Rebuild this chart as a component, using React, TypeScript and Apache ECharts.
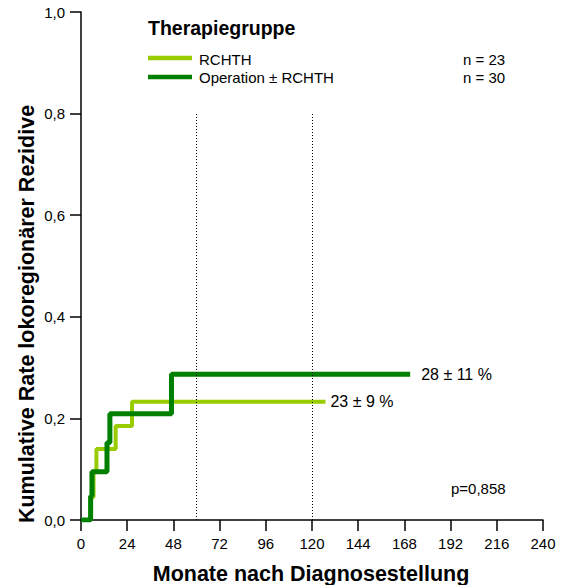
import React, { useEffect, useRef } from "react";
import * as echarts from "echarts";

const xTicks = [0, 24, 48, 72, 96, 120, 144, 168, 192, 216, 240];
const yTicks = [0, 0.2, 0.4, 0.6, 0.8, 1.0];

// [months, cumulative rate]
const rchth: [number, number][] = [
  [0, 0], [5, 0], [5, 0.045], [6.5, 0.045], [6.5, 0.095], [8, 0.095], [8, 0.14],
  [18, 0.14], [18, 0.185], [26.5, 0.185], [26.5, 0.233], [127, 0.233],
];
const operation: [number, number][] = [
  [0, 0], [5, 0], [5, 0.047], [5.7, 0.047], [5.7, 0.095], [13.5, 0.095], [13.5, 0.152],
  [15, 0.152], [15, 0.209], [47, 0.209], [47, 0.287], [171, 0.287],
];
const refLines = [60, 120];
const seriesNames = ["RCHTH", "Operation ± RCHTH"];
const seriesN = ["n = 23", "n = 30"];
const endLabels = ["23 ± 9 %", "28 ± 11 %"];
const pValue = "p=0,858";

const LIGHT = "#99cc00";
const DARK = "#008000";
const FONT = "'Liberation Sans', Arial, sans-serif";

export default function App() {
  const ref = useRef<HTMLDivElement>(null);
  useEffect(() => {
    if (!ref.current) return;
    const chart = echarts.init(ref.current, undefined, { renderer: "svg" });
    const axisLine = { show: true, lineStyle: { color: "#000", width: 1.5 } };
    const tick = { show: true, length: 11, lineStyle: { color: "#000", width: 1.5 } };
    const endL = rchth[rchth.length - 1];
    const endD = operation[operation.length - 1];
    chart.setOption({
      animation: false,
      backgroundColor: "#fff",
      grid: { left: 81, right: 20, top: 12, bottom: 65 },
      xAxis: {
        type: "value",
        min: xTicks[0],
        max: xTicks[xTicks.length - 1],
        interval: 24,
        axisLine,
        axisTick: tick,
        axisLabel: { color: "#000", fontSize: 15, fontFamily: FONT, margin: 16 },
        splitLine: { show: false },
      },
      yAxis: {
        type: "value",
        min: yTicks[0],
        max: yTicks[yTicks.length - 1],
        interval: 0.2,
        axisLine,
        axisTick: tick,
        axisLabel: {
          color: "#000",
          fontSize: 15,
          fontFamily: FONT,
          margin: 16,
          formatter: (v: number) => v.toFixed(1).replace(".", ","),
        },
        splitLine: { show: false },
      },
      series: [
        {
          type: "line",
          name: seriesNames[0],
          data: rchth,
          showSymbol: false,
          lineStyle: { color: LIGHT, width: 4 },
          z: 3,
          markLine: {
            silent: true,
            symbol: "none",
            label: { show: false },
            lineStyle: { color: "#000", width: 1, type: [1, 2] },
            data: refLines.map((x) => [{ coord: [x, 0] }, { coord: [x, 0.8] }]),
          },
          markPoint: {
            symbol: "circle",
            symbolSize: 0,
            data: [{ coord: endL, value: endLabels[0] }],
            label: {
              show: true,
              position: "right",
              distance: 5,
              formatter: endLabels[0],
              color: "#000",
              fontSize: 16,
              fontFamily: FONT,
            },
          },
        },
        {
          type: "line",
          name: seriesNames[1],
          data: operation,
          showSymbol: false,
          lineStyle: { color: DARK, width: 5 },
          z: 4,
          markPoint: {
            symbol: "circle",
            symbolSize: 0,
            data: [{ coord: endD, value: endLabels[1] }],
            label: {
              show: true,
              position: "right",
              distance: 11,
              formatter: endLabels[1],
              color: "#000",
              fontSize: 16,
              fontFamily: FONT,
            },
          },
        },
      ],
      graphic: [
        {
          type: "text",
          x: 148,
          y: 28,
          style: {
            text: "Therapiegruppe",
            font: `bold 19.5px ${FONT}`,
            fill: "#000",
            verticalAlign: "middle",
          },
        },
        { type: "line", shape: { x1: 148, y1: 58, x2: 192, y2: 58 }, style: { stroke: LIGHT, lineWidth: 4.5 } },
        { type: "line", shape: { x1: 148, y1: 77, x2: 192, y2: 77 }, style: { stroke: DARK, lineWidth: 4.5 } },
        {
          type: "text",
          x: 199,
          y: 59,
          style: { text: seriesNames[0], font: `15px ${FONT}`, fill: "#000", verticalAlign: "middle" },
        },
        {
          type: "text",
          x: 199,
          y: 77,
          style: { text: seriesNames[1], font: `15px ${FONT}`, fill: "#000", verticalAlign: "middle" },
        },
        {
          type: "text",
          x: 463,
          y: 59,
          style: { text: seriesN[0], font: `15px ${FONT}`, fill: "#000", verticalAlign: "middle" },
        },
        {
          type: "text",
          x: 463,
          y: 77,
          style: { text: seriesN[1], font: `15px ${FONT}`, fill: "#000", verticalAlign: "middle" },
        },
        {
          type: "text",
          x: 451,
          y: 488,
          style: { text: pValue, font: `15px ${FONT}`, fill: "#000", verticalAlign: "middle" },
        },
        {
          type: "text",
          x: 311,
          y: 574,
          style: {
            text: "Monate nach Diagnosestellung",
            font: `bold 21.5px ${FONT}`,
            fill: "#000",
            align: "center",
            verticalAlign: "middle",
          },
        },
        {
          type: "text",
          x: 27,
          y: 314,
          rotation: Math.PI / 2,
          style: {
            text: "Kumulative Rate lokoregionärer Rezidive",
            font: `bold 21.5px ${FONT}`,
            fill: "#000",
            align: "center",
            verticalAlign: "middle",
          },
        },
      ],
    });
    return () => chart.dispose();
  }, []);
  return (
    <div
      ref={ref}
      style={{ position: "absolute", left: 0, top: 0, width: 563, height: 585 }}
    />
  );
}
